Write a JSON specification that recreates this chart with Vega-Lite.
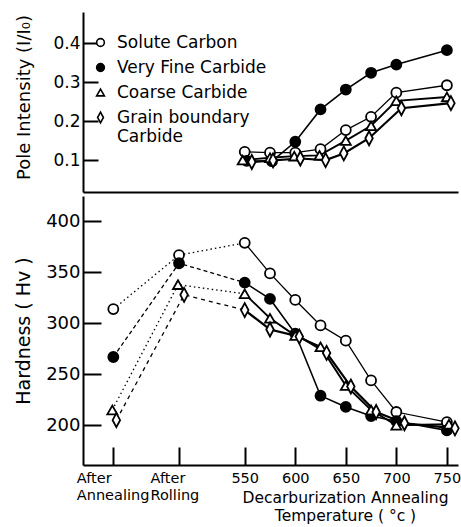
{
  "$schema": "https://vega.github.io/schema/vega-lite/v6.json",
  "padding": {"left": 13, "top": 12, "right": 0, "bottom": 0},
  "background": "white",
  "spacing": 4,
  "bounds": "flush",
  "config": {
    "view": {"stroke": null},
    "font": "DejaVu Sans",
    "axis": {"grid": false, "domainColor": "black", "domainWidth": 2, "tickColor": "black", "tickWidth": 2, "labelColor": "black", "titleColor": "black", "titleFontWeight": "normal", "labelFlush": false, "labelOverlap": false, "labelFont": "DejaVu Sans", "titleFont": "DejaVu Sans"},
    "legend": {"orient": "none", "legendX": 9, "legendY": 22, "title": null, "padding": 0, "labelFontSize": 17, "labelFont": "DejaVu Sans", "labelColor": "black", "symbolSize": 60, "symbolStrokeWidth": 1.6, "rowPadding": 7, "labelOffset": 8, "labelLimit": 300}
  },
  "resolve": {"legend": {"shape": "independent", "fill": "independent", "stroke": "independent"}},
  "datasets": {
    "pole": [
      {"series": "Solute Carbon", "T": 550, "intensity": 0.121},
      {"series": "Solute Carbon", "T": 575, "intensity": 0.119},
      {"series": "Solute Carbon", "T": 600, "intensity": 0.119},
      {"series": "Solute Carbon", "T": 625, "intensity": 0.128},
      {"series": "Solute Carbon", "T": 650, "intensity": 0.177},
      {"series": "Solute Carbon", "T": 675, "intensity": 0.211},
      {"series": "Solute Carbon", "T": 700, "intensity": 0.273},
      {"series": "Solute Carbon", "T": 750, "intensity": 0.292},
      {"series": "Very Fine Carbide", "T": 552, "intensity": 0.098},
      {"series": "Very Fine Carbide", "T": 577, "intensity": 0.097},
      {"series": "Very Fine Carbide", "T": 600, "intensity": 0.147},
      {"series": "Very Fine Carbide", "T": 625, "intensity": 0.230},
      {"series": "Very Fine Carbide", "T": 650, "intensity": 0.281},
      {"series": "Very Fine Carbide", "T": 675, "intensity": 0.324},
      {"series": "Very Fine Carbide", "T": 700, "intensity": 0.345},
      {"series": "Very Fine Carbide", "T": 750, "intensity": 0.382},
      {"series": "Coarse Carbide", "T": 548, "intensity": 0.100},
      {"series": "Coarse Carbide", "T": 575, "intensity": 0.106},
      {"series": "Coarse Carbide", "T": 599, "intensity": 0.110},
      {"series": "Coarse Carbide", "T": 624, "intensity": 0.112},
      {"series": "Coarse Carbide", "T": 650, "intensity": 0.150},
      {"series": "Coarse Carbide", "T": 675, "intensity": 0.188},
      {"series": "Coarse Carbide", "T": 700, "intensity": 0.252},
      {"series": "Coarse Carbide", "T": 750, "intensity": 0.262},
      {"series": "Grain boundary Carbide", "T": 557, "intensity": 0.095},
      {"series": "Grain boundary Carbide", "T": 578, "intensity": 0.099},
      {"series": "Grain boundary Carbide", "T": 605, "intensity": 0.104},
      {"series": "Grain boundary Carbide", "T": 630, "intensity": 0.100},
      {"series": "Grain boundary Carbide", "T": 648, "intensity": 0.117},
      {"series": "Grain boundary Carbide", "T": 673, "intensity": 0.156},
      {"series": "Grain boundary Carbide", "T": 705, "intensity": 0.233},
      {"series": "Grain boundary Carbide", "T": 754, "intensity": 0.246}
    ],
    "hard": [
      {"series": "Solute Carbon", "T": 420, "hardness": 314},
      {"series": "Solute Carbon", "T": 485, "hardness": 367},
      {"series": "Solute Carbon", "T": 550, "hardness": 379},
      {"series": "Solute Carbon", "T": 575, "hardness": 349},
      {"series": "Solute Carbon", "T": 600, "hardness": 323},
      {"series": "Solute Carbon", "T": 625, "hardness": 298},
      {"series": "Solute Carbon", "T": 650, "hardness": 283},
      {"series": "Solute Carbon", "T": 675, "hardness": 244},
      {"series": "Solute Carbon", "T": 700, "hardness": 213},
      {"series": "Solute Carbon", "T": 750, "hardness": 203},
      {"series": "Very Fine Carbide", "T": 420, "hardness": 267},
      {"series": "Very Fine Carbide", "T": 485, "hardness": 359},
      {"series": "Very Fine Carbide", "T": 550, "hardness": 340},
      {"series": "Very Fine Carbide", "T": 575, "hardness": 324},
      {"series": "Very Fine Carbide", "T": 600, "hardness": 290},
      {"series": "Very Fine Carbide", "T": 625, "hardness": 229},
      {"series": "Very Fine Carbide", "T": 650, "hardness": 218},
      {"series": "Very Fine Carbide", "T": 675, "hardness": 209},
      {"series": "Very Fine Carbide", "T": 700, "hardness": 204},
      {"series": "Very Fine Carbide", "T": 750, "hardness": 195},
      {"series": "Coarse Carbide", "T": 419, "hardness": 215},
      {"series": "Coarse Carbide", "T": 484, "hardness": 338},
      {"series": "Coarse Carbide", "T": 550, "hardness": 329},
      {"series": "Coarse Carbide", "T": 575, "hardness": 305},
      {"series": "Coarse Carbide", "T": 600, "hardness": 288},
      {"series": "Coarse Carbide", "T": 625, "hardness": 277},
      {"series": "Coarse Carbide", "T": 650, "hardness": 239},
      {"series": "Coarse Carbide", "T": 675, "hardness": 215},
      {"series": "Coarse Carbide", "T": 700, "hardness": 200},
      {"series": "Coarse Carbide", "T": 752, "hardness": 201},
      {"series": "Grain boundary Carbide", "T": 423, "hardness": 205},
      {"series": "Grain boundary Carbide", "T": 490, "hardness": 328},
      {"series": "Grain boundary Carbide", "T": 550, "hardness": 313},
      {"series": "Grain boundary Carbide", "T": 575, "hardness": 294},
      {"series": "Grain boundary Carbide", "T": 604, "hardness": 287},
      {"series": "Grain boundary Carbide", "T": 631, "hardness": 271},
      {"series": "Grain boundary Carbide", "T": 655, "hardness": 238},
      {"series": "Grain boundary Carbide", "T": 680, "hardness": 213},
      {"series": "Grain boundary Carbide", "T": 708, "hardness": 202},
      {"series": "Grain boundary Carbide", "T": 758, "hardness": 197}
    ]
  },
  "vconcat": [
    {
      "width": 375,
      "height": 180,
      "data": {"name": "pole"},
      "resolve": {"axis": {"y": "independent", "x": "independent"}},
      "layer": [
        {
          "mark": {"type": "line", "color": "black"},
          "encoding": {
            "x": {"field": "T", "type": "quantitative", "scale": {"domain": [390, 761], "nice": false}, "axis": {"labels": false, "ticks": false, "title": null}},
            "y": {"field": "intensity", "type": "quantitative", "scale": {"domain": [0.018, 0.48], "nice": false},
              "axis": {"orient": "left", "values": [0.1, 0.2, 0.3, 0.4], "format": ".1f", "ticks": false, "labelPadding": 3, "labelFontSize": 17,
                "title": "Pole Intensity (I/I₀)", "titleFontSize": 18, "titleX": -54, "titleY": 85, "titleBaseline": "alphabetic"}},
            "detail": {"field": "series"},
            "strokeWidth": {"field": "series", "scale": {"domain": ["Solute Carbon", "Very Fine Carbide", "Coarse Carbide", "Grain boundary Carbide"], "range": [1.3, 2.2, 1.3, 1.5]}, "legend": null}
          }
        },
        {
          "mark": {"type": "point", "strokeWidth": 1.8, "size": 100, "opacity": 1},
          "encoding": {
            "x": {"field": "T", "type": "quantitative", "scale": {"domain": [390, 761], "nice": false}, "axis": null},
            "y": {"field": "intensity", "type": "quantitative", "scale": {"domain": [0.018, 0.48], "nice": false},
              "axis": {"orient": "right", "offset": -375, "values": [0.1, 0.2, 0.3, 0.4], "labels": false, "domain": false, "ticks": true, "tickSize": 15, "title": null}},
            "shape": {"field": "series", "scale": {"domain": ["Solute Carbon", "Very Fine Carbide", "Coarse Carbide", "Grain boundary Carbide"], "range": ["circle", "circle", "triangle-up", "M0,-1.4L0.75,0L0,1.4L-0.75,0Z"]},
              "legend": {"labelExpr": "datum.label == 'Grain boundary Carbide' ? ['Grain boundary', 'Carbide'] : datum.label"}},
            "fill": {"field": "series", "scale": {"domain": ["Solute Carbon", "Very Fine Carbide", "Coarse Carbide", "Grain boundary Carbide"], "range": ["white", "black", "white", "white"]},
              "legend": {"labelExpr": "datum.label == 'Grain boundary Carbide' ? ['Grain boundary', 'Carbide'] : datum.label"}},
            "stroke": {"field": "series", "scale": {"domain": ["Solute Carbon", "Very Fine Carbide", "Coarse Carbide", "Grain boundary Carbide"], "range": ["black", "black", "black", "black"]},
              "legend": {"labelExpr": "datum.label == 'Grain boundary Carbide' ? ['Grain boundary', 'Carbide'] : datum.label"}}
          }
        }
      ]
    },
    {
      "width": 375,
      "height": 269,
      "data": {"name": "hard"},
      "resolve": {"axis": {"y": "independent", "x": "independent"}},
      "layer": [
        {
          "transform": [{"filter": "datum.T >= 550"}],
          "mark": {"type": "line", "color": "black"},
          "encoding": {
            "x": {"field": "T", "type": "quantitative", "scale": {"domain": [390, 761], "nice": false},
              "axis": {"orient": "bottom", "values": [420, 485, 550, 600, 650, 700, 750], "ticks": false, "labelPadding": 6, "labelFontSize": 14.5, "labelLineHeight": 17,
                "labelExpr": "datum.value == 420 ? ['After', 'Annealing'] : datum.value == 485 ? ['After', 'Rolling'] : datum.label",
                "labelAlign": {"condition": {"test": "datum.value < 500", "value": "left"}, "value": "center"},
                "labelOffset": {"condition": [{"test": "datum.value < 450", "value": -37}, {"test": "datum.value < 500", "value": -29}], "value": 0},
                "title": ["Decarburization Annealing", "Temperature ( °c )"], "titleFontSize": 15.5, "titleLineHeight": 18, "titleX": 262, "titleY": 25, "titleBaseline": "top", "titleAlign": "center"}},
            "y": {"field": "hardness", "type": "quantitative", "scale": {"domain": [161, 425], "nice": false},
              "axis": {"orient": "left", "values": [200, 250, 300, 350, 400], "ticks": false, "labelPadding": 3, "labelFontSize": 18,
                "title": "Hardness  ( Hv )", "titleFontSize": 19, "titleX": -54, "titleBaseline": "alphabetic"}},
            "detail": {"field": "series"},
            "strokeWidth": {"field": "series", "scale": {"domain": ["Solute Carbon", "Very Fine Carbide", "Coarse Carbide", "Grain boundary Carbide"], "range": [1.3, 2.2, 1.3, 1.5]}, "legend": null}
          }
        },
        {
          "transform": [{"filter": "datum.T <= 550"}],
          "mark": {"type": "line", "color": "black", "strokeWidth": 1.3},
          "encoding": {
            "x": {"field": "T", "type": "quantitative", "scale": {"domain": [390, 761], "nice": false}, "axis": null},
            "y": {"field": "hardness", "type": "quantitative", "scale": {"domain": [161, 425], "nice": false}, "axis": null},
            "strokeDash": {"field": "series", "scale": {"domain": ["Solute Carbon", "Very Fine Carbide", "Coarse Carbide", "Grain boundary Carbide"], "range": [[1.5, 3], [4, 3], [1.5, 3], [4, 4]]}, "legend": null}
          }
        },
        {
          "mark": {"type": "point", "strokeWidth": 1.8, "size": 100, "opacity": 1},
          "encoding": {
            "x": {"field": "T", "type": "quantitative", "scale": {"domain": [390, 761], "nice": false},
              "axis": {"orient": "top", "offset": -269, "values": [420, 485, 550, 600, 650, 700, 750], "labels": false, "domain": false, "ticks": true, "tickSize": 18, "title": null}},
            "y": {"field": "hardness", "type": "quantitative", "scale": {"domain": [161, 425], "nice": false},
              "axis": {"orient": "right", "offset": -375, "values": [200, 250, 300, 350, 400], "labels": false, "domain": false, "ticks": true, "tickSize": 18, "title": null}},
            "shape": {"field": "series", "legend": null},
            "fill": {"field": "series", "legend": null},
            "stroke": {"field": "series", "legend": null}
          }
        }
      ]
    }
  ]
}
